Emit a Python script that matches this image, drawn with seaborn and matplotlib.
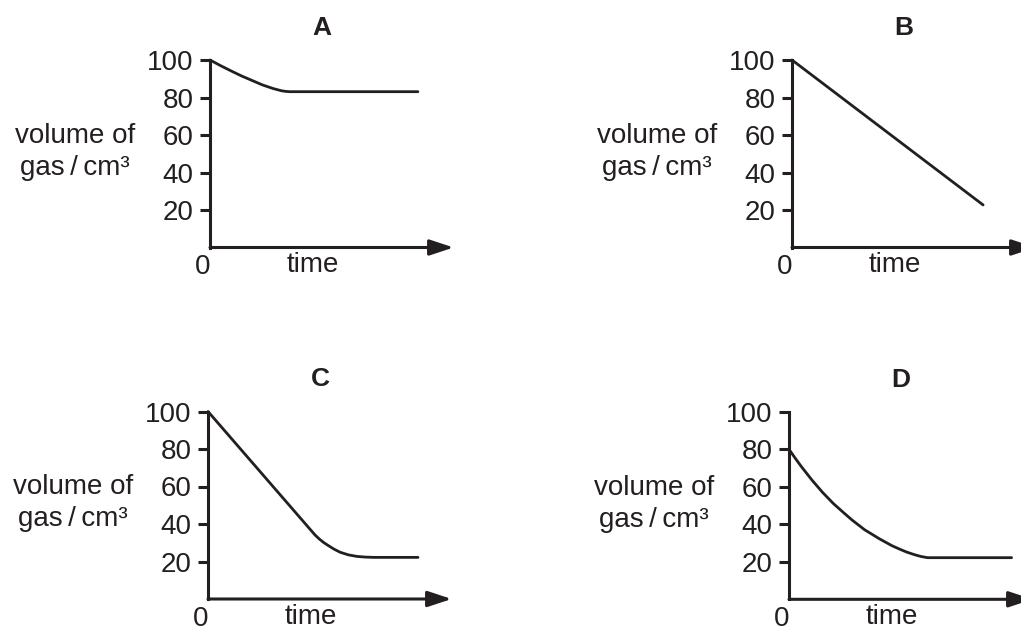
import matplotlib
matplotlib.use("Agg")
import matplotlib.pyplot as plt
import seaborn as sns

sns.set_style("white")
plt.rcParams['font.family'] = ['Liberation Sans', 'DejaVu Sans']

INK = "#231f20"

# ---- data (time in arbitrary units, volume in cm3) ----
panel_names = ["A", "B", "C", "D"]
time_A = [0, 0.5, 1, 1.5, 2, 2.5, 3, 3.2, 3.4, 3.6, 3.8, 9.9]
vol_A = [100, 97, 94.2, 91.5, 89.1, 86.7, 84.8, 84.2, 83.6, 83.25, 83.1, 83.1]
time_B = [0, 9.1]
vol_B = [100, 22.7]
time_C = [0, 5.1, 5.3, 5.5, 5.7, 6.0, 6.3, 6.7, 7.1, 7.5, 7.9, 10.0]
vol_C = [100, 34.1, 32.0, 30.2, 28.7, 26.6, 24.9, 23.5, 22.7, 22.35, 22.2, 22.2]
time_D = [0, 0.3, 0.6, 1.1, 1.6, 2.1, 2.6, 3.0, 3.6, 4.3, 4.9, 5.3, 5.6, 6.0, 6.3, 6.6, 10.6]
vol_D = [80, 75.2, 70.6, 63.5, 57, 51.2, 46.2, 42.3, 37.1, 32.3, 28.6, 26.6, 25.2, 23.7, 22.8, 22.2, 22.2]
y_ticks = [20, 40, 60, 80, 100]
y_label = "volume of\ngas\u2009/\u2009cm\u00b3"
x_label = "time"

series = {"A": (time_A, vol_A), "B": (time_B, vol_B),
          "C": (time_C, vol_C), "D": (time_D, vol_D)}

W, H = 1021, 630
fig = plt.figure(figsize=(W / 100, H / 100), dpi=100)
fig.patch.set_facecolor("white")

# layout: (axis x px, y px of value 0)
layout = {"A": (210, 247.5), "B": (792, 247.5), "C": (208, 599), "D": (789, 599.3)}
PX_PER_UNIT = 21.0
XMAX = 11.6
PLOT_H = 187.5

for name in panel_names:
    x0, y0 = layout[name]
    ax = fig.add_axes([x0 / W, (H - y0) / H, XMAX * PX_PER_UNIT / W, PLOT_H / H])
    ax.set_facecolor("none")
    t, v = series[name]
    sns.lineplot(x=t, y=v, ax=ax, color=INK, linewidth=2.0, clip_on=False)
    ax.set_xlim(0, XMAX)
    ax.set_ylim(0, 100)
    for s in ["top", "right", "bottom"]:
        ax.spines[s].set_visible(False)
    ax.spines["left"].set_color(INK)
    ax.spines["left"].set_linewidth(2.2)
    ax.set_xticks([])
    ax.set_yticks(y_ticks)
    ax.set_yticklabels([str(y) for y in y_ticks])
    ax.tick_params(axis="y", direction="out", length=7.5, width=2.2, color=INK,
                   labelsize=20, labelcolor=INK, pad=4.5, left=True)
    ax.set_xlabel("")
    ax.set_ylabel("")
    # x axis arrow
    ax.annotate("", xy=(1, 0), xytext=(0, 0), xycoords="axes fraction",
                arrowprops=dict(arrowstyle="-|>,head_length=1.0,head_width=0.33",
                                mutation_scale=14.5, lw=2.2, color=INK,
                                shrinkA=0, shrinkB=0), annotation_clip=False)
    # origin label
    ax.annotate("0", xy=(0, 0), xycoords="data", xytext=(-7, -19.5),
                textcoords="offset pixels", ha="center", va="center",
                fontsize=20, color=INK, annotation_clip=False)
    # x label
    ax.annotate(x_label, xy=(4.9, 0), xycoords="data", xytext=(0, -17.5),
                textcoords="offset pixels", ha="center", va="center",
                fontsize=20, color=INK, annotation_clip=False)
    # y label
    ax.annotate(y_label, xy=(0, 51), xycoords="data", xytext=(-135, 0),
                textcoords="offset pixels", ha="center", va="center",
                multialignment="center", linespacing=1.3,
                fontsize=20, color=INK, annotation_clip=False)
    # panel title
    ax.annotate(name, xy=(5.33, 100), xycoords="data", xytext=(0, 32),
                textcoords="offset pixels", ha="center", va="center",
                fontsize=19, fontweight="bold", color=INK, annotation_clip=False)

fig.savefig("out.png", dpi=100, facecolor="white")
